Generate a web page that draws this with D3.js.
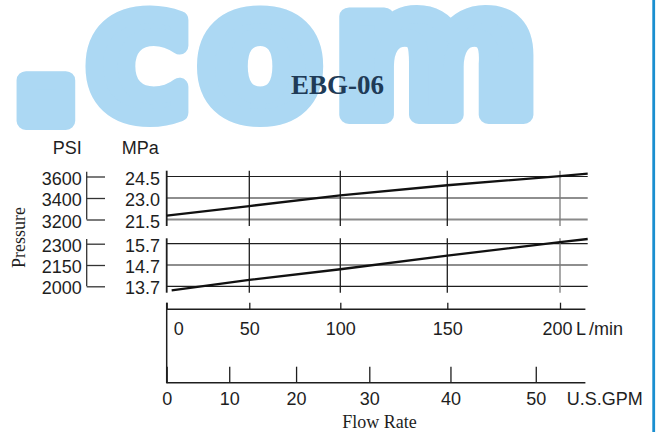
<!DOCTYPE html>
<html>
<head>
<meta charset="utf-8">
<script src="https://cdn.jsdelivr.net/npm/d3@7/dist/d3.min.js"></script>
<style>
  html, body { margin: 0; padding: 0; background: #fff; }
  svg { display: block; }
  .sans { font-family: "Liberation Sans", Arial, Helvetica, sans-serif; }
  .serif { font-family: "Liberation Serif", "Times New Roman", serif; }
</style>
</head>
<body>
<div id="chart"></div>
<script>
// ---------------- data ----------------
const title = "EBG-06";
const watermark = [".", "c", "o", "m"];

// flow rate (L/min) tick labels and U.S. GPM tick labels
const flowTicksLmin = [0, 50, 100, 150, 200];
const flowTicksGpm = [0, 10, 20, 30, 40, 50];
const lminPerGpm = 3.785;

// pressure ticks
const mpaHighTicks = [21.5, 23.0, 24.5];
const psiHighTicks = [3200, 3400, 3600];
const mpaLowTicks = [13.7, 14.7, 15.7];
const psiLowTicks = [2000, 2150, 2300];

// series: upper curve (MPa vs L/min)
const highFlow = [0, 50, 100, 150, 200, 212];
const highMPa = [21.77, 22.44, 23.19, 23.89, 24.53, 24.70];
// series: lower curve (MPa vs L/min)
const lowFlow = [3, 50, 100, 150, 200, 212];
const lowMPa = [13.51, 14.00, 14.50, 15.14, 15.77, 15.92];

// ---------------- layout ----------------
const W = 657, H = 439;
const flowMax = 212;       // right end of grid
const flowAxisMax = 211;   // right end of flow axes
// the source chart draws the flow axis non-uniformly; calibrate breakpoints
const flowDomain = [0, 50, 100, 150, 200, flowMax];
const flowRange = [166.7, 249.3, 340.3, 447.3, 560, 587.7];

const svg = d3.select("#chart").append("svg")
  .attr("width", W).attr("height", H).attr("viewBox", `0 0 ${W} ${H}`);

const x = d3.scaleLinear().domain(flowDomain).range(flowRange);
const xGpm = d3.scaleLinear().domain(flowDomain.map(v => v / lminPerGpm)).range(flowRange);

const yHigh = d3.scaleLinear().domain([21.5, 24.5]).range([219.5, 176.5]);
const psiHigh = d3.scaleLinear().domain([3200, 3600]).range([219.5, 176.5]);
const yLow = d3.scaleLinear().domain([13.7, 15.7]).range([286.3, 243.7]);
const psiLow = d3.scaleLinear().domain([2000, 2300]).range([286.3, 243.7]);

const ink = "#1e1e1e";

// ---------------- watermark ----------------
const wmColor = "#acd8f3";
const wmPos = [
  { cx: 46, size: 215, base: 121, sx: 1.05 },
  { cx: 139, size: 180, base: 115, sx: 0.98 },
  { cx: 260, size: 180, base: 115, sx: 1.0 },
  { cx: 436, size: 180, base: 115, sx: 1.1 }
];
const wm = svg.append("g").attr("class", "watermark");
watermark.forEach((ch, i) => {
  const p = wmPos[i];
  wm.append("text")
    .attr("transform", `translate(${p.cx},${p.base}) scale(${p.sx},1)`)
    .attr("text-anchor", "middle")
    .style("font-family", '"DejaVu Sans", sans-serif')
    .style("font-weight", "bold")
    .style("font-size", p.size + "px")
    .attr("fill", wmColor)
    .attr("stroke", wmColor)
    .attr("stroke-width", 18)
    .attr("stroke-linejoin", "round")
    .text(ch);
});

// right blue bar
svg.append("rect").attr("x", 652.3).attr("y", 0).attr("width", 2.8).attr("height", 432)
  .attr("fill", "#1a8fd0");

// title
svg.append("text").attr("class", "serif")
  .attr("x", 337.5).attr("y", 93.5).attr("text-anchor", "middle")
  .style("font-size", "27px").style("font-weight", "bold")
  .attr("fill", "#1f3b57").text(title);

// ---------------- panels ----------------
function panel(yS, psiS, mpaTicks, psiTicks, padTop, padBot, greyBase) {
  const g = svg.append("g");
  const yTopPx = yS.range()[1] - padTop, yBotPx = yS.range()[0] + padBot;

  // horizontal grid lines
  g.selectAll("line.h").data(mpaTicks).join("line")
    .attr("x1", x(0)).attr("x2", x(flowMax))
    .attr("y1", d => yS(d)).attr("y2", d => yS(d))
    .attr("stroke", (d, i) => (i === 0 && greyBase) ? "#8a8a8a" : ink)
    .attr("stroke-width", (d, i) => (i === 0 && greyBase) ? 2 : 1.2);

  // vertical grid lines at flow ticks
  g.selectAll("line.v").data(flowTicksLmin).join("line")
    .attr("x1", d => x(d)).attr("x2", d => x(d))
    .attr("y1", yTopPx).attr("y2", yBotPx)
    .attr("stroke", d => d === 200 ? "#7a7a7a" : ink)
    .attr("stroke-width", d => d === 0 ? 1.8 : 1.3);

  // MPa labels
  const mpaAxis = d3.axisLeft(yS).tickValues(mpaTicks).tickSize(0).tickPadding(6.7)
    .tickFormat(d3.format(".1f"));
  g.append("g").attr("transform", `translate(${x(0)},0)`).call(mpaAxis)
    .call(a => a.select(".domain").remove())
    .call(a => a.selectAll("text").attr("class", "sans").style("font-size", "18px")
      .attr("fill", ink).attr("dy", "0.42em"));

  // PSI axis
  const psiAxis = d3.axisLeft(psiS).tickValues(psiTicks).tickSizeInner(-18.3).tickSizeOuter(0)
    .tickPadding(5).tickFormat(d3.format("d"));
  const pg = g.append("g").attr("transform", "translate(86.7,0)").call(psiAxis);
  pg.select(".domain").remove();
  pg.selectAll(".tick line").attr("stroke", "#333").attr("stroke-width", 1.3);
  pg.selectAll("text").attr("class", "sans").style("font-size", "18px").attr("fill", ink).attr("dy", "0.42em");
  pg.append("line").attr("x1", 0).attr("x2", 0)
    .attr("y1", psiS.range()[1] - 4.8).attr("y2", psiS.range()[0])
    .attr("stroke", "#333").attr("stroke-width", 1.3);
}
panel(yHigh, psiHigh, mpaHighTicks, psiHighTicks, 5.8, 6.5, true);
panel(yLow, psiLow, mpaLowTicks, psiLowTicks, 5.4, 6.4, false);

// ---------------- curves ----------------
const highData = highFlow.map((f, i) => ({ f, p: highMPa[i] }));
const lowData = lowFlow.map((f, i) => ({ f, p: lowMPa[i] }));
svg.append("path").datum(highData)
  .attr("d", d3.line().x(d => x(d.f)).y(d => yHigh(d.p)))
  .attr("fill", "none").attr("stroke", "#111").attr("stroke-width", 2.3);
svg.append("path").datum(lowData)
  .attr("d", d3.line().x(d => x(d.f)).y(d => yLow(d.p)))
  .attr("fill", "none").attr("stroke", "#111").attr("stroke-width", 2.3);

// ---------------- flow axes ----------------
const lminY = 309.3, gpmY = 382.7;
// left vertical bar joining both flow axes
svg.append("line").attr("x1", x(0)).attr("x2", x(0)).attr("y1", 302.7).attr("y2", gpmY + 0.6)
  .attr("stroke", ink).attr("stroke-width", 1.5);

const lminAxis = d3.axisBottom(x).tickValues(flowTicksLmin).tickSizeInner(-6.6).tickSizeOuter(0)
  .tickPadding(12.9).tickFormat(d3.format("d"));
const lg = svg.append("g").attr("transform", `translate(0,${lminY})`).call(lminAxis);
lg.select(".domain").remove();
lg.selectAll(".tick line").attr("stroke", ink).attr("stroke-width", 1.3);
lg.selectAll("text").attr("class", "sans").style("font-size", "18px").attr("fill", ink)
  .attr("dx", d => d === 0 ? 11.6 : (d === 200 ? -3 : 0));
lg.append("line").attr("x1", x(0)).attr("x2", x(flowAxisMax)).attr("y1", 0).attr("y2", 0)
  .attr("stroke", ink).attr("stroke-width", 1.4);
svg.append("text").attr("class", "sans")
  .attr("x", x(200) + 16).attr("y", 335).style("font-size", "18px").attr("fill", ink)
  .call(t => { t.append("tspan").text("L"); t.append("tspan").attr("dx", 3).text("/min"); });

const gpmAxis = d3.axisBottom(xGpm).tickValues(flowTicksGpm).tickSizeInner(-16).tickSizeOuter(0)
  .tickPadding(9.5).tickFormat(d3.format("d"));
const gg = svg.append("g").attr("transform", `translate(0,${gpmY})`).call(gpmAxis);
gg.select(".domain").remove();
gg.selectAll(".tick line").attr("stroke", ink).attr("stroke-width", 1.3);
gg.selectAll("text").attr("class", "sans").style("font-size", "18px").attr("fill", ink);
gg.append("line").attr("x1", x(0)).attr("x2", x(flowAxisMax)).attr("y1", 0).attr("y2", 0)
  .attr("stroke", ink).attr("stroke-width", 1.4);
svg.append("text").attr("class", "sans")
  .attr("x", 566.7).attr("y", 405).style("font-size", "18px").attr("fill", ink).text("U.S.GPM");

// headers and axis titles
svg.append("text").attr("class", "sans").attr("x", 81.7).attr("y", 154)
  .attr("text-anchor", "end").style("font-size", "18px").attr("fill", ink).text("PSI");
svg.append("text").attr("class", "sans").attr("x", 121.7).attr("y", 154)
  .style("font-size", "18px").attr("fill", ink).text("MPa");
svg.append("text").attr("class", "serif").attr("x", 379.5).attr("y", 428)
  .attr("text-anchor", "middle").style("font-size", "18px").attr("fill", ink).text("Flow Rate");
svg.append("text").attr("class", "serif")
  .attr("transform", "translate(25,237.5) rotate(-90)")
  .attr("text-anchor", "middle").style("font-size", "18px").attr("fill", ink).text("Pressure");
</script>
</body>
</html>
